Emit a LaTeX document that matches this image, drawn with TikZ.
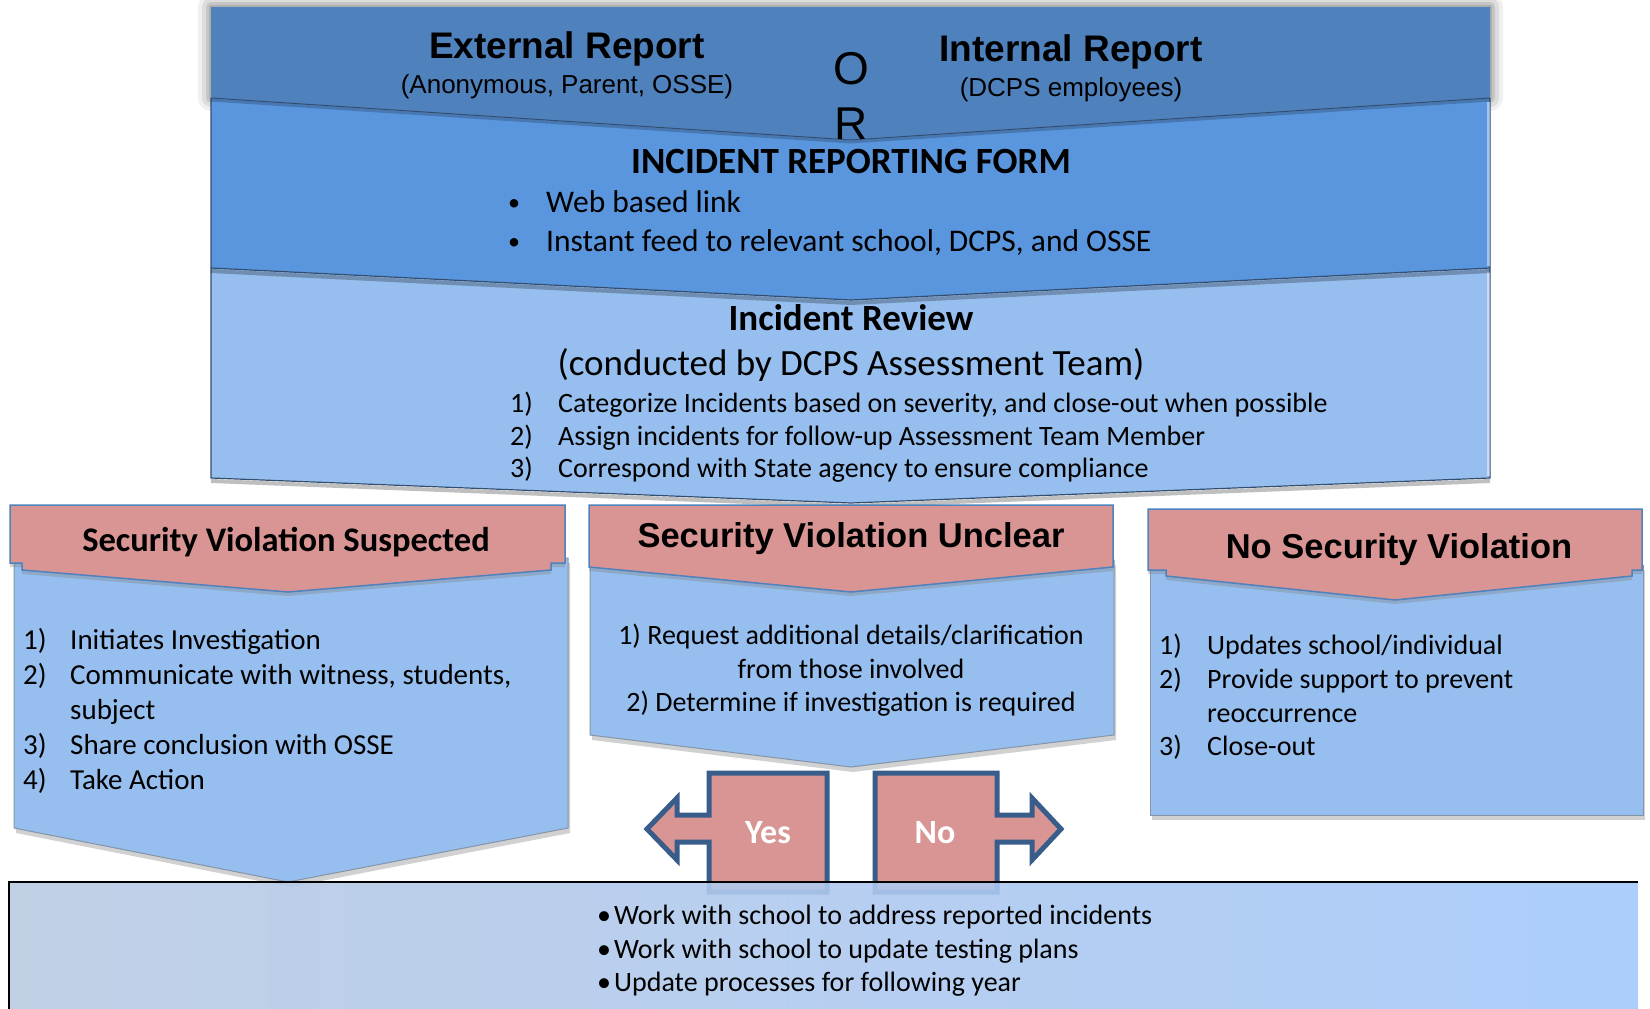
\documentclass[tikz,border=0pt]{standalone}
\usepackage{fontspec}
\setmainfont{Carlito}
\newfontfamily\arialfont{Liberation Sans}
\usetikzlibrary{shadows}

\definecolor{bandDark}{RGB}{79,129,189}
\definecolor{bandMid}{RGB}{90,150,222}
\definecolor{bandLight}{RGB}{150,190,238}
\definecolor{pinkHead}{RGB}{217,149,148}
\definecolor{arrowEdge}{RGB}{56,93,138}
\definecolor{edgeLine}{RGB}{52,78,112}
\definecolor{baseLeft}{RGB}{186,202,226}
\definecolor{baseRight}{RGB}{164,201,250}

\tikzset{
  lbl/.style={inner sep=0pt, anchor=base},
  lblw/.style={inner sep=0pt, anchor=base west},
  fA/.style={font=\arialfont\bfseries\fontsize{37}{40}\selectfont},
  fAs/.style={font=\arialfont\fontsize{26}{30}\selectfont},
  fOR/.style={font=\arialfont\fontsize{46}{50}\selectfont},
  fHead/.style={font=\bfseries\fontsize{37}{44}\selectfont},
  fBul/.style={font=\fontsize{31.5}{36}\selectfont},
  fDot/.style={font=\fontsize{24}{28}\selectfont},
  fSub/.style={font=\fontsize{37}{44}\selectfont},
  fList/.style={font=\fontsize{28}{33}\selectfont},
  fListL/.style={font=\fontsize{29}{34}\selectfont},
  fHeadL/.style={font=\bfseries\fontsize{34.5}{40}\selectfont},
  fHeadA/.style={font=\arialfont\bfseries\fontsize{34.5}{40}\selectfont},
  fYN/.style={font=\bfseries\fontsize{34}{40}\selectfont, text=white},
  band/.style={draw=edgeLine, line width=1.2pt, line join=miter},
  head/.style={fill=pinkHead, draw=bandDark, line width=1.5pt,
    drop shadow={shadow xshift=0pt, shadow yshift=-4pt, opacity=0.35, fill=black!50}},
  body/.style={fill=bandLight, draw=edgeLine!60, line width=1pt,
    drop shadow={shadow xshift=2pt, shadow yshift=-5pt, opacity=0.3, fill=black!60}},
  ynarrow/.style={fill=pinkHead, draw=arrowEdge, line width=5pt, line join=miter},
  bevel/.style={draw=white, opacity=0.45, line width=3pt},
}

\begin{document}
\begin{tikzpicture}[x=1pt,y=-1pt]
\useasboundingbox (0,0) rectangle (1650,1009);

% soft glow round the top band
\foreach \w/\o in {26/0.06,18/0.08,10/0.10,4/0.12}
  \draw[black, opacity=\o, line width=\w pt, line join=round]
    (211,7) -- (1490,7) -- (1490,98) -- (851,140) -- (211,98) -- cycle;

% stacked chevron bands
\fill[bandLight] (211,268) -- (851,300) -- (1490,268) -- (1490,478) -- (851,503) -- (211,478) -- cycle;
\draw[black, opacity=0.25, line width=4pt] (211,481) -- (851,506) -- (1490,481);
\draw[band] (211,268) -- (211,478) -- (851,503) -- (1490,478) -- (1490,268);
\draw[bevel] (1488,272) -- (1488,476);

\fill[bandMid] (211,98) -- (851,140) -- (1490,98) -- (1490,268) -- (851,300) -- (211,268) -- cycle;
\draw[black, opacity=0.25, line width=4pt] (211,271) -- (851,303) -- (1490,271);
\draw[band] (211,98) -- (211,268) -- (851,300) -- (1490,268) -- (1490,98);
\draw[bevel] (1488,102) -- (1488,266);

\fill[bandDark] (211,7) -- (1490,7) -- (1490,98) -- (851,140) -- (211,98) -- cycle;
\draw[black, opacity=0.2, line width=3pt] (211,100) -- (851,142) -- (1490,100);
\draw[edgeLine, line width=1pt] (211,98) -- (851,140) -- (1490,98);

% three outcome columns
\path[body] (14,558) -- (568,558) -- (568,828) -- (288,882) -- (14,828) -- cycle;
\path[head] (10,505) -- (565,505) -- (565,563) -- (551,563) -- (551,570) -- (288,592)
  -- (22,570) -- (22,563) -- (10,563) -- cycle;

\path[body] (590,560) -- (1114,560) -- (1114,735) -- (851,767) -- (590,735) -- cycle;
\path[head] (589,505) -- (1113,505) -- (1113,567) -- (851,592) -- (589,567) -- cycle;

\path[body] (1150,565) -- (1643,565) -- (1643,815) -- (1150,815) -- cycle;
\path[head] (1148,509) -- (1642,509) -- (1642,570) -- (1632,570) -- (1632,576) -- (1395,600)
  -- (1166,576) -- (1166,570) -- (1148,570) -- cycle;

% yes / no arrows
\path[ynarrow] (709,892) -- (709,842) -- (677,842) -- (677,860) -- (647,829) -- (677,798)
  -- (677,815) -- (709,815) -- (709,773) -- (827,773) -- (827,892) -- cycle;
\path[ynarrow] (875,773) -- (997,773) -- (997,815) -- (1032,815) -- (1032,798) -- (1061,829)
  -- (1032,860) -- (1032,842) -- (997,842) -- (997,892) -- (875,892) -- cycle;

% closing action panel
\shade[left color=baseLeft, right color=baseRight, opacity=0.9] (9,882) rectangle (1638,1012);
\draw[black, line width=1.5pt] (9,1012) -- (9,882) -- (1638,882);

% top band texts
\node[lbl, fA]  (ext)    at (567,58) {External Report};
\node[lbl, fAs] (extsub) at (567,93) {(Anonymous, Parent, OSSE)};
\node[lbl, fA]  (int)    at (1071,61) {Internal Report};
\node[lbl, fAs] (intsub) at (1071,96) {(DCPS employees)};
\node[lbl, fOR] (orO)    at (851,84) {O};
\node[lbl, fOR] (orR)    at (851,139) {R};

\node[lbl, fHead] (form) at (851,173) {INCIDENT REPORTING FORM};
\node[lbl, fDot] (formb1) at (514,210) {•};
\node[lblw, fBul] (formt1) at (546,212) {Web based link};
\node[lbl, fDot] (formb2) at (514,249) {•};
\node[lblw, fBul] (formt2) at (546,251) {Instant feed to relevant school, DCPS, and OSSE};

\node[lbl, fHead] (rev) at (851,330) {Incident Review};
\node[lbl, fSub] (revsub) at (851,375) {(conducted by DCPS Assessment Team)};
\node[lblw, fList] (revn1) at (510,412) {1)};
\node[lblw, fList] (revt1) at (558,412) {Categorize Incidents based on severity, and close-out when possible};
\node[lblw, fList] (revn2) at (510,445) {2)};
\node[lblw, fList] (revt2) at (558,445) {Assign incidents for follow-up Assessment Team Member};
\node[lblw, fList] (revn3) at (510,477) {3)};
\node[lblw, fList] (revt3) at (558,477) {Correspond with State agency to ensure compliance};

% left column texts
\node[lbl, fHeadL] (susp) at (286,551) {Security Violation Suspected};
\node[lblw, fListL] (sn1) at (23,649) {1)};
\node[lblw, fListL] (st1) at (70,649) {Initiates Investigation};
\node[lblw, fListL] (sn2) at (23,684) {2)};
\node[lblw, fListL] (st2) at (70,684) {Communicate with witness, students,};
\node[lblw, fListL] (st2b) at (70,719) {subject};
\node[lblw, fListL] (sn3) at (23,754) {3)};
\node[lblw, fListL] (st3) at (70,754) {Share conclusion with OSSE};
\node[lblw, fListL] (sn4) at (23,789) {4)};
\node[lblw, fListL] (st4) at (70,789) {Take Action};

% middle column texts
\node[lbl, fHeadA] (uncl) at (851,547) {Security Violation Unclear};
\node[lbl, fList] (ut1) at (851,644) {1) Request additional details/clarification};
\node[lbl, fList] (ut1b) at (851,678) {from those involved};
\node[lbl, fList] (ut2) at (851,711) {2) Determine if investigation is required};

% right column texts
\node[lbl, fHeadA] (nosec) at (1399,558) {No Security Violation};
\node[lblw, fList] (nn1) at (1159,654) {1)};
\node[lblw, fList] (nt1) at (1207,654) {Updates school/individual};
\node[lblw, fList] (nn2) at (1159,688) {2)};
\node[lblw, fList] (nt2) at (1207,688) {Provide support to prevent};
\node[lblw, fList] (nt2b) at (1207,722) {reoccurrence};
\node[lblw, fList] (nn3) at (1159,755) {3)};
\node[lblw, fList] (nt3) at (1207,755) {Close-out};

% yes / no labels
\node[lbl, fYN] (yes) at (768,843) {Yes};
\node[lbl, fYN] (no)  at (935,843) {No};

% closing action bullets
\node[lblw, fList] (bb1) at (597,924) {•};
\node[lblw, fList] (bt1) at (614,924) {Work with school to address reported incidents};
\node[lblw, fList] (bb2) at (597,958) {•};
\node[lblw, fList] (bt2) at (614,958) {Work with school to update testing plans};
\node[lblw, fList] (bb3) at (597,991) {•};
\node[lblw, fList] (bt3) at (614,991) {Update processes for following year};

\end{tikzpicture}
\end{document}
